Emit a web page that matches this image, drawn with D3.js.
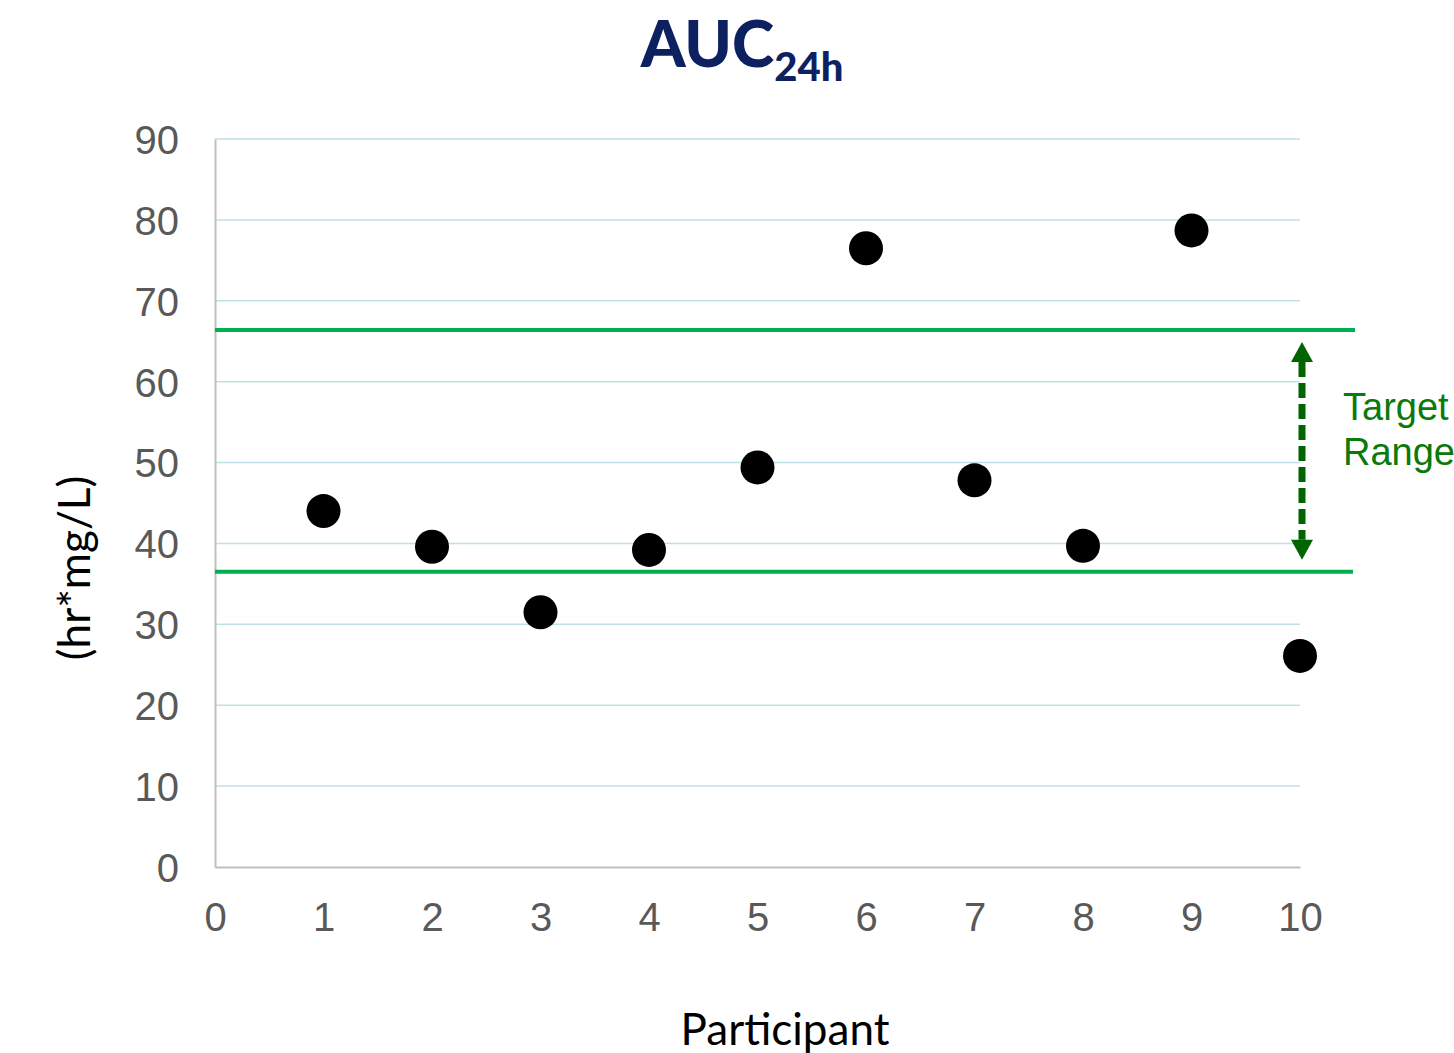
<!DOCTYPE html>
<html>
<head>
<meta charset="utf-8">
<script src="https://cdn.jsdelivr.net/npm/d3@7"></script>
<style>
  body { margin: 0; background: #fff; }
  svg { display: block; }
</style>
</head>
<body>
<div id="chart"></div>
<script>
// data
const participants = [1, 2, 3, 4, 5, 6, 7, 8, 9, 10];
const auc = [44.0, 39.6, 31.5, 39.2, 49.4, 76.5, 47.8, 39.7, 78.7, 26.1];
const targetRange = [36.5, 66.4];
const xTicks = [0, 1, 2, 3, 4, 5, 6, 7, 8, 9, 10];
const yTicks = [0, 10, 20, 30, 40, 50, 60, 70, 80, 90];

const width = 1454, height = 1053;
const margin = { left: 215, right: 154, top: 139, bottom: 186 };

const svg = d3.select("#chart").append("svg")
  .attr("width", width)
  .attr("height", height);

const x = d3.scaleLinear().domain([0, 10]).range([margin.left, width - margin.right]);
const y = d3.scaleLinear().domain([0, 90]).range([height - margin.bottom, margin.top]);

// gridlines
svg.append("g")
  .selectAll("line")
  .data(yTicks.filter(d => d > 0))
  .join("line")
  .attr("x1", x(0)).attr("x2", x(10))
  .attr("y1", d => y(d)).attr("y2", d => y(d))
  .attr("stroke", "#bfe1e5")
  .attr("stroke-width", 1.5);

// axes
const yAxis = svg.append("g")
  .attr("transform", `translate(${x(0)},0)`)
  .call(d3.axisLeft(y).tickValues(yTicks).tickSize(0).tickPadding(36));
const xAxis = svg.append("g")
  .attr("transform", `translate(0,${y(0)})`)
  .call(d3.axisBottom(x).tickValues(xTicks).tickSize(0).tickPadding(28));

[yAxis, xAxis].forEach(g => {
  g.select(".domain").attr("stroke", "#bfbfbf").attr("stroke-width", 2);
  g.selectAll("text")
    .attr("font-family", "Liberation Sans, Arial, sans-serif")
    .attr("font-size", 40)
    .attr("fill", "#595959");
});
yAxis.selectAll("text").attr("dy", "0.36em");
xAxis.selectAll("text").attr("dy", "0.9em");

// target range lines
svg.append("g")
  .selectAll("line")
  .data(targetRange)
  .join("line")
  .attr("x1", x(0)).attr("x2", (d, i) => i ? 1355 : 1353)
  .attr("y1", d => y(d)).attr("y2", d => y(d))
  .attr("stroke", "#00b050")
  .attr("stroke-width", 4);

// double arrow
const arrowColor = "#006400";
const ax = x(10) + 2;
const yTop = y(targetRange[1]) + 12, yBot = y(targetRange[0]) - 12;
const headH = 20, headW = 11;
svg.append("line")
  .attr("x1", ax).attr("x2", ax)
  .attr("y1", yTop + headH).attr("y2", yBot - headH)
  .attr("stroke", arrowColor)
  .attr("stroke-width", 7)
  .attr("stroke-dasharray", "15,6");
svg.append("path")
  .attr("d", `M${ax},${yTop}L${ax + headW},${yTop + headH}L${ax - headW},${yTop + headH}Z`)
  .attr("fill", arrowColor);
svg.append("path")
  .attr("d", `M${ax},${yBot}L${ax + headW},${yBot - headH}L${ax - headW},${yBot - headH}Z`)
  .attr("fill", arrowColor);

svg.append("text")
  .attr("x", 1343).attr("y", 420)
  .attr("font-family", "Liberation Sans, Arial, sans-serif")
  .attr("font-size", 38)
  .attr("fill", "#0a7a0a")
  .selectAll("tspan")
  .data(["Target", "Range"])
  .join("tspan")
  .attr("x", 1343)
  .attr("dy", (d, i) => i ? 45 : 0)
  .text(d => d);

// points
svg.append("g")
  .selectAll("circle")
  .data(participants)
  .join("circle")
  .attr("cx", d => x(d))
  .attr("cy", (d, i) => y(auc[i]))
  .attr("r", 17)
  .attr("fill", "#000");

// title
const title = svg.append("text")
  .attr("x", 742).attr("y", 67)
  .attr("text-anchor", "middle")
  .attr("font-family", "Lato, Open Sans, sans-serif")
  .attr("font-weight", 900)
  .attr("font-size", 64)
  .attr("fill", "#0d2160");
title.append("tspan").text("AUC");
title.append("tspan").attr("font-size", 40).attr("dy", 14).text("24h");

// axis titles
svg.append("text")
  .attr("transform", "translate(90,568) rotate(-90)")
  .attr("text-anchor", "middle")
  .attr("font-family", "Lato, Open Sans, sans-serif")
  .attr("font-size", 44)
  .attr("fill", "#000")
  .text("(hr*mg/L)");

svg.append("text")
  .attr("x", 785).attr("y", 1045)
  .attr("text-anchor", "middle")
  .attr("font-family", "Lato, Open Sans, sans-serif")
  .attr("font-size", 44)
  .attr("fill", "#000")
  .text("Participant");
</script>
</body>
</html>
